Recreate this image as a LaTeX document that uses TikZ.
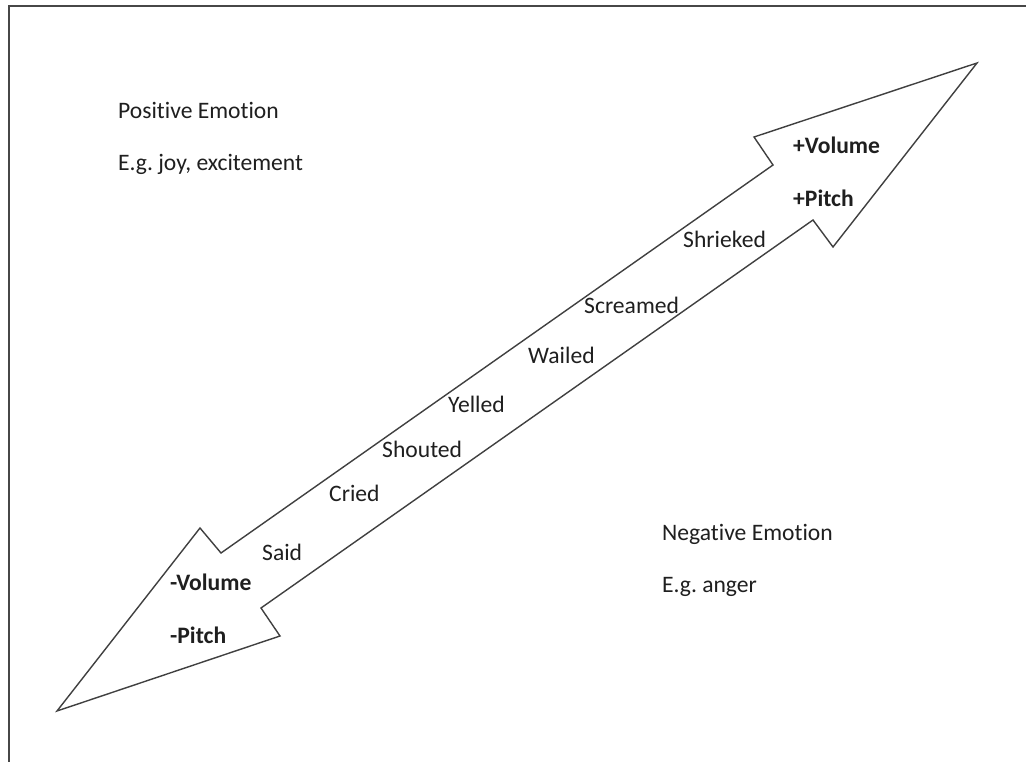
\documentclass[tikz,border=0pt]{standalone}
\usepackage{fontspec}
\setmainfont[Ligatures=NoCommon]{Carlito}
\frenchspacing
\begin{document}
\begin{tikzpicture}[x=1pt,y=-1pt,
  lbl/.style={anchor=base west,inner sep=0pt,font=\fontsize{23.6}{28}\selectfont,text=black!88},
  blbl/.style={lbl,font=\fontsize{23.6}{28}\selectfont\bfseries},
  outline/.style={draw=black!75,line width=1.4pt,line join=miter,fill=white},
  frameline/.style={draw=black!72,line width=2.4pt}]
\useasboundingbox[fill=white] (0,0) rectangle (1026,762);
% frame (only top and left edges visible)
\draw[frameline] (9,762) -- (9,6) -- (1026,6);
% double-headed block arrow
\draw[outline] (57,711) -- (200,528) -- (221,553) -- (773,165) -- (754,137)
  -- (977,63) -- (833,247) -- (813,220) -- (261,608) -- (280,636) -- cycle;
% corner labels
\node[lbl] (pos) at (118,119) {Positive Emotion};
\node[lbl] (posex) at (118,171) {E.g. joy, excitement};
\node[lbl] (neg) at (662,540) {Negative Emotion};
\node[lbl] (negex) at (662,592) {E.g. anger};
% arrow head labels
\node[blbl] (pvol) at (793,154) {+Volume};
\node[blbl] (ppit) at (793,207) {+Pitch};
\node[blbl] (mvol) at (170,590) {-Volume};
\node[blbl] (mpit) at (170,643) {-Pitch};
% words along the arrow
\node[lbl] (said) at (262,560) {Said};
\node[lbl] (cried) at (329,501) {Cried};
\node[lbl] (shouted) at (382,457) {Shouted};
\node[lbl] (yelled) at (448,412) {Yelled};
\node[lbl] (wailed) at (528,363) {Wailed};
\node[lbl] (screamed) at (584,313) {Screamed};
\node[lbl] (shrieked) at (683,248) {Shrieked};
\end{tikzpicture}
\end{document}
